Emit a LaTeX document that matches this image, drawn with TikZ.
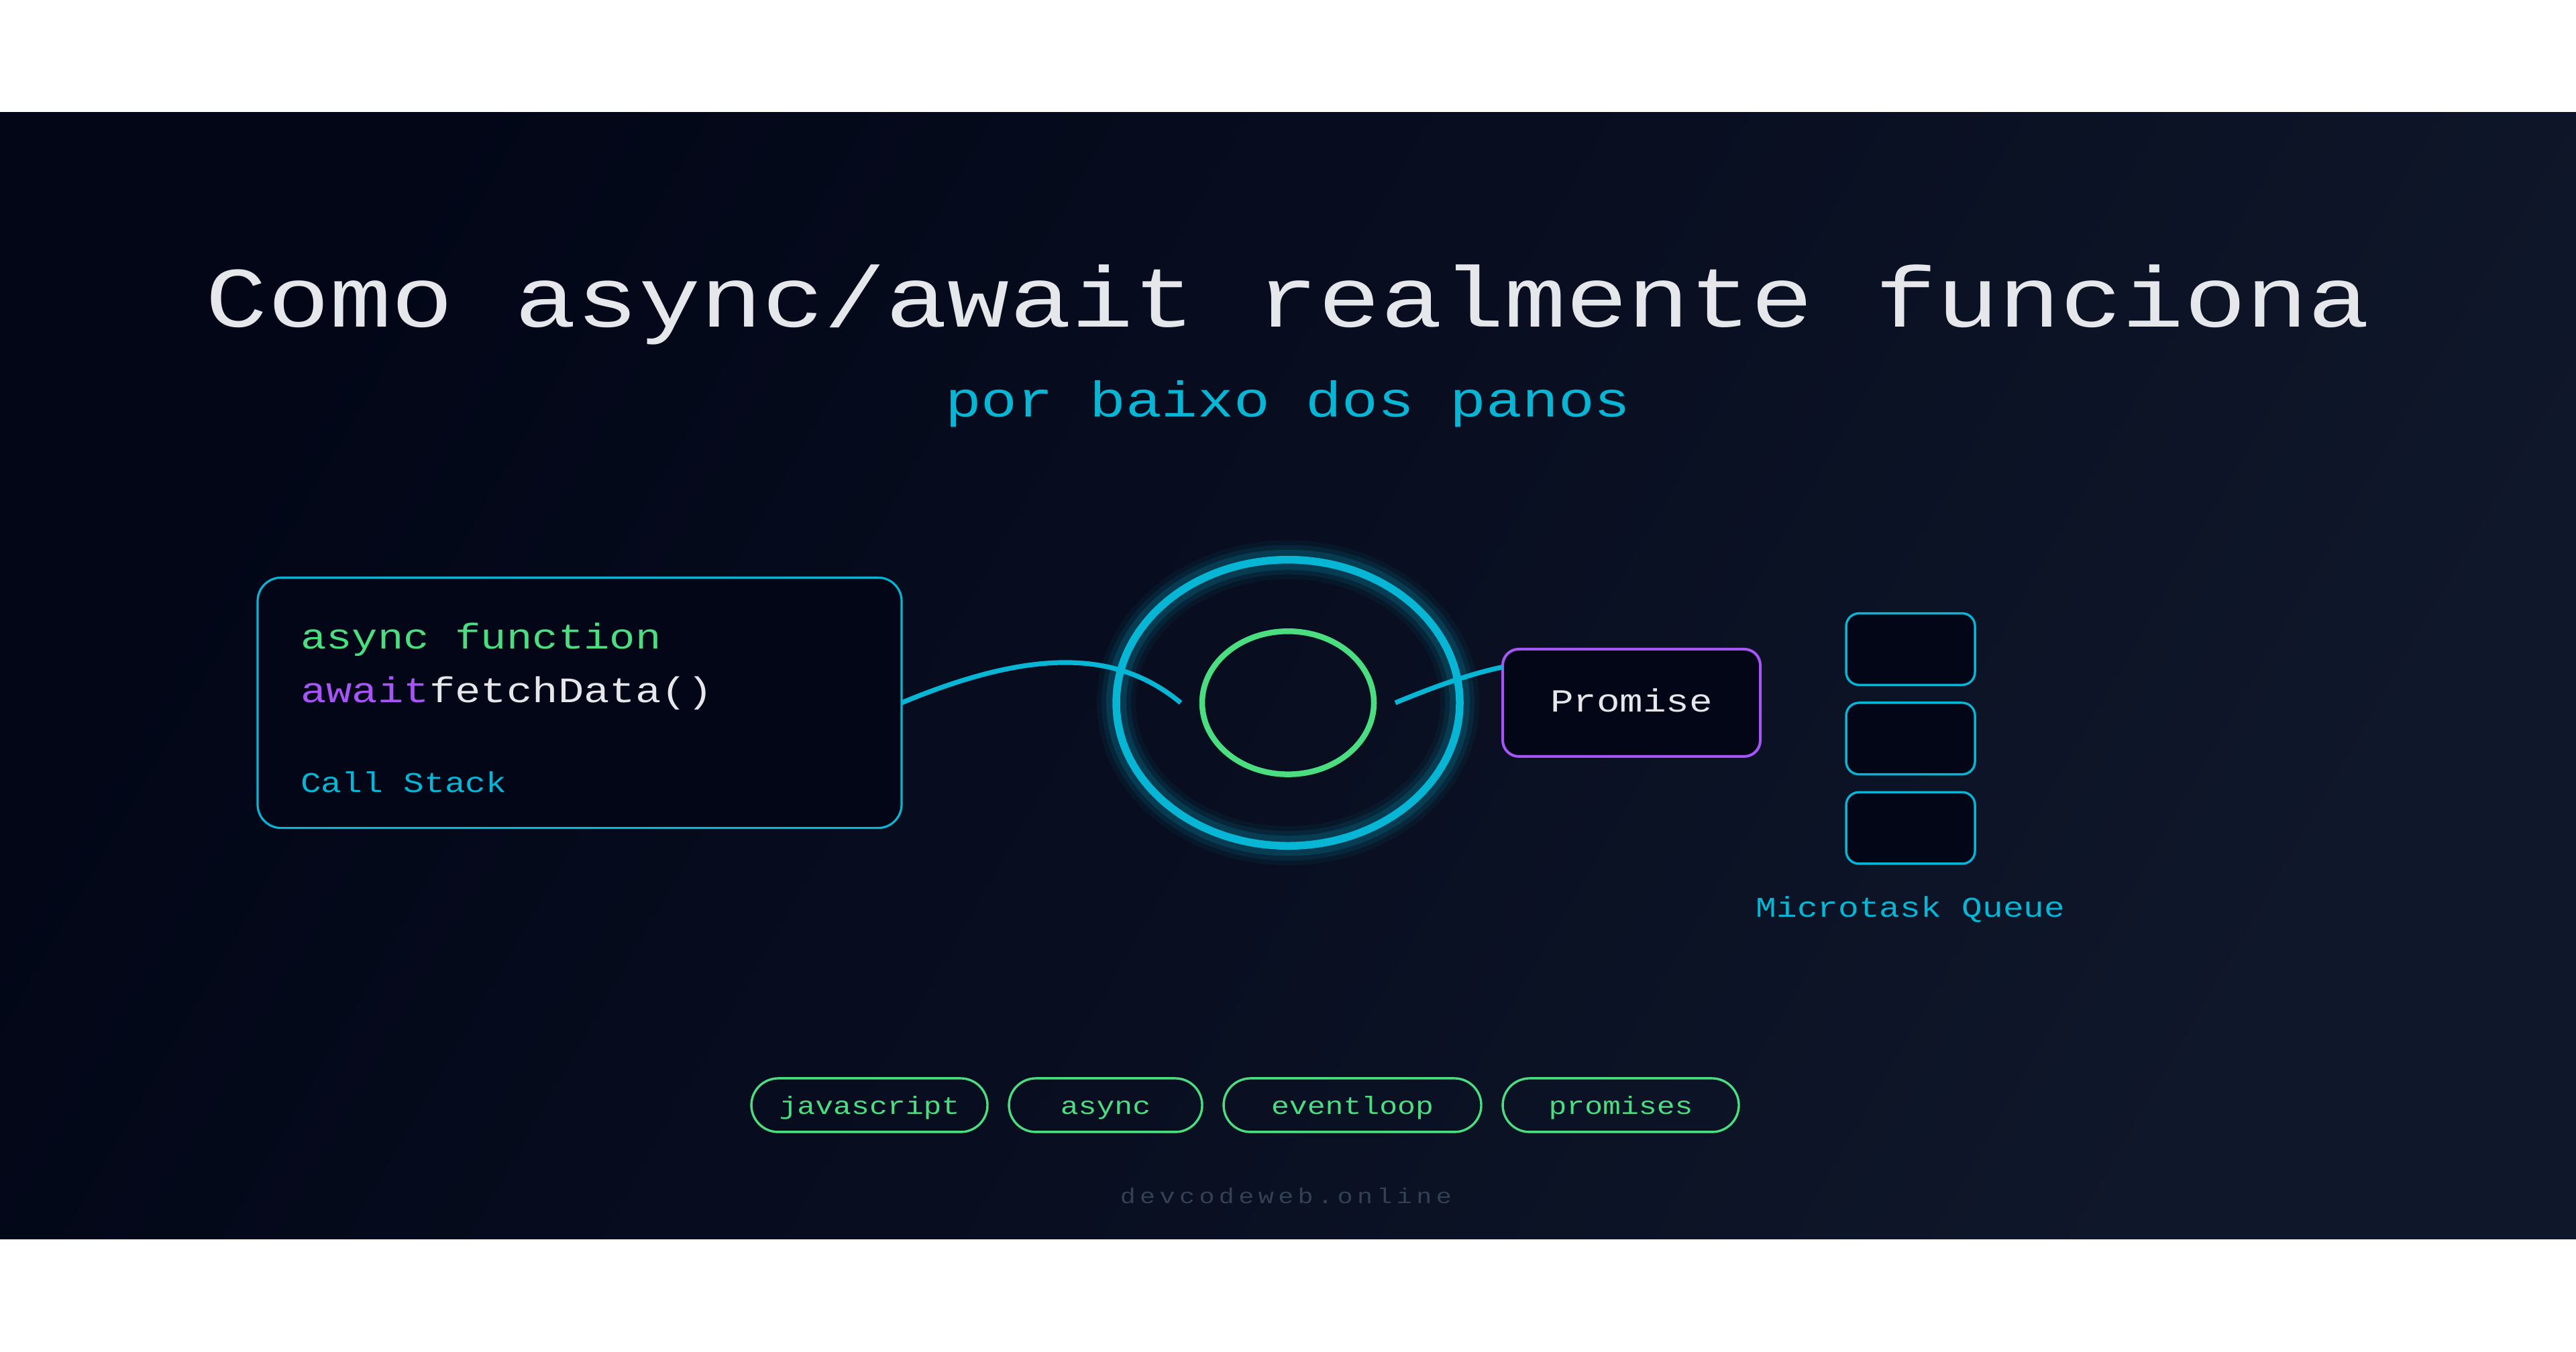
\documentclass[tikz,border=0pt]{standalone}
\usepackage{fontspec}
\usetikzlibrary{shapes.geometric}
\newfontfamily\mono[FakeStretch=1.2]{Liberation Mono}
\definecolor{bgA}{HTML}{020617}
\definecolor{bgB}{HTML}{0F172A}
\definecolor{cyanc}{HTML}{06B6D4}
\definecolor{greenc}{HTML}{4ADE80}
\definecolor{purplec}{HTML}{A855F7}
\definecolor{whitec}{HTML}{E5E7EB}
\definecolor{boxfill}{HTML}{020617}
\definecolor{footc}{HTML}{334155}
\newcommand\fsz[1]{\mono\fontsize{#1}{#1}\selectfont}
\newcommand\lsp{\kern0.64pt\relax}
\begin{document}
\begin{tikzpicture}[x=0.32pt,y=-0.266667pt,
  lbl/.style={inner sep=0pt, outer sep=0pt},
  panel/.style={draw=cyanc, line width=0.32pt, fill=boxfill, rounded corners=3.5pt, inner sep=0pt, outer sep=0pt},
  promisebox/.style={draw=purplec, line width=0.4pt, fill=boxfill, rounded corners=2.4pt, inner sep=0pt, outer sep=0pt,
    minimum width=38.4pt, minimum height=16pt},
  qbox/.style={draw=cyanc, line width=0.34pt, fill=boxfill, rounded corners=1.9pt, inner sep=0pt,
    minimum width=19.2pt, minimum height=10.667pt},
  tagbox/.style={draw=greenc, line width=0.34pt, rounded corners=4pt, inner sep=0pt, minimum height=8pt},
  taglbl/.style={lbl, anchor=base, text=greenc, font=\fsz{3.7333pt}},
  conn/.style={draw=cyanc, line width=0.72pt},
  glow/.style={draw=cyanc}
]
\useasboundingbox (0,-63) rectangle (1200,693);
\fill[white] (0,-63) rectangle (1200,693);
\shade[left color=bgA, right color=bgB, shading angle=60] (0,0) rectangle (1200,630);

% title
\node[lbl, anchor=base, text=whitec, font=\fsz{12.8pt}] (title) at (600,120) {Como async/await realmente funciona};
\node[lbl, anchor=base, text=cyanc, font=\fsz{7.4667pt}] (subtitle) at (600,170) {por baixo dos panos};

% call stack panel
\node[panel, minimum width=96pt, minimum height=37.333pt] (cs) at (270,330) {};
\node[lbl, anchor=base west, text=greenc, font=\fsz{5.3333pt}] (code1) at (140,300) {async function};
\node[lbl, anchor=base west, font=\fsz{5.3333pt}] (code2) at (140,330) {\textcolor{purplec}{await}\textcolor{whitec}{fetchData()}};
\node[lbl, anchor=base west, text=cyanc, font=\fsz{4.2667pt}] (cslbl) at (140,380) {Call Stack};

% event loop
\coordinate (lc) at (600,330);
\draw[glow, line width=5.8pt, opacity=0.06] (lc) circle[radius=80];
\draw[glow, line width=4.4pt, opacity=0.09] (lc) circle[radius=80];
\draw[glow, line width=3.0pt, opacity=0.16] (lc) circle[radius=80];
\node[ellipse, draw=cyanc, line width=1.15pt, minimum width=51.2pt, minimum height=42.667pt, inner sep=0pt] (loop) at (lc) {};
\node[ellipse, draw=greenc, line width=0.85pt, minimum width=25.6pt, minimum height=21.333pt, inner sep=0pt] (core) at (lc) {};

% promise
\node[promisebox] (promise) at (760,330) {};
\node[lbl, anchor=base, text=whitec, font=\fsz{4.8pt}] (plbl) at (760,335) {Promise};

% connectors
\coordinate (lin) at (550,330);
\coordinate (lout) at (650,330);
\coordinate (pin) at (700,310);
\draw[conn] (cs.east) .. controls (480,300) and (520,300) .. (lin);
\draw[conn] (lout) .. controls (670,320) and (686.7,313.3) .. (pin);

% microtask queue
\node[qbox] (q1) at (890,300) {};
\node[qbox] (q2) at (890,350) {};
\node[qbox] (q3) at (890,400) {};
\node[lbl, anchor=base, text=cyanc, font=\fsz{4.2667pt}] (qlbl) at (890,450) {Microtask Queue};

% tags
\node[tagbox, minimum width=35.2pt] (t1) at (405,555) {};
\node[tagbox, minimum width=28.8pt] (t2) at (515,555) {};
\node[tagbox, minimum width=38.4pt] (t3) at (630,555) {};
\node[tagbox, minimum width=35.2pt] (t4) at (755,555) {};
\node[taglbl] (t1l) at (405,560) {javascript};
\node[taglbl] (t2l) at (515,560) {async};
\node[taglbl] (t3l) at (630,560) {eventloop};
\node[taglbl] (t4l) at (755,560) {promises};

% footer
\node[lbl, anchor=base, text=footc, font=\fsz{3.2pt}] (foot) at (599,610)
  {d\lsp e\lsp v\lsp c\lsp o\lsp d\lsp e\lsp w\lsp e\lsp b\lsp .\lsp o\lsp n\lsp l\lsp i\lsp n\lsp e};
\end{tikzpicture}
\end{document}
